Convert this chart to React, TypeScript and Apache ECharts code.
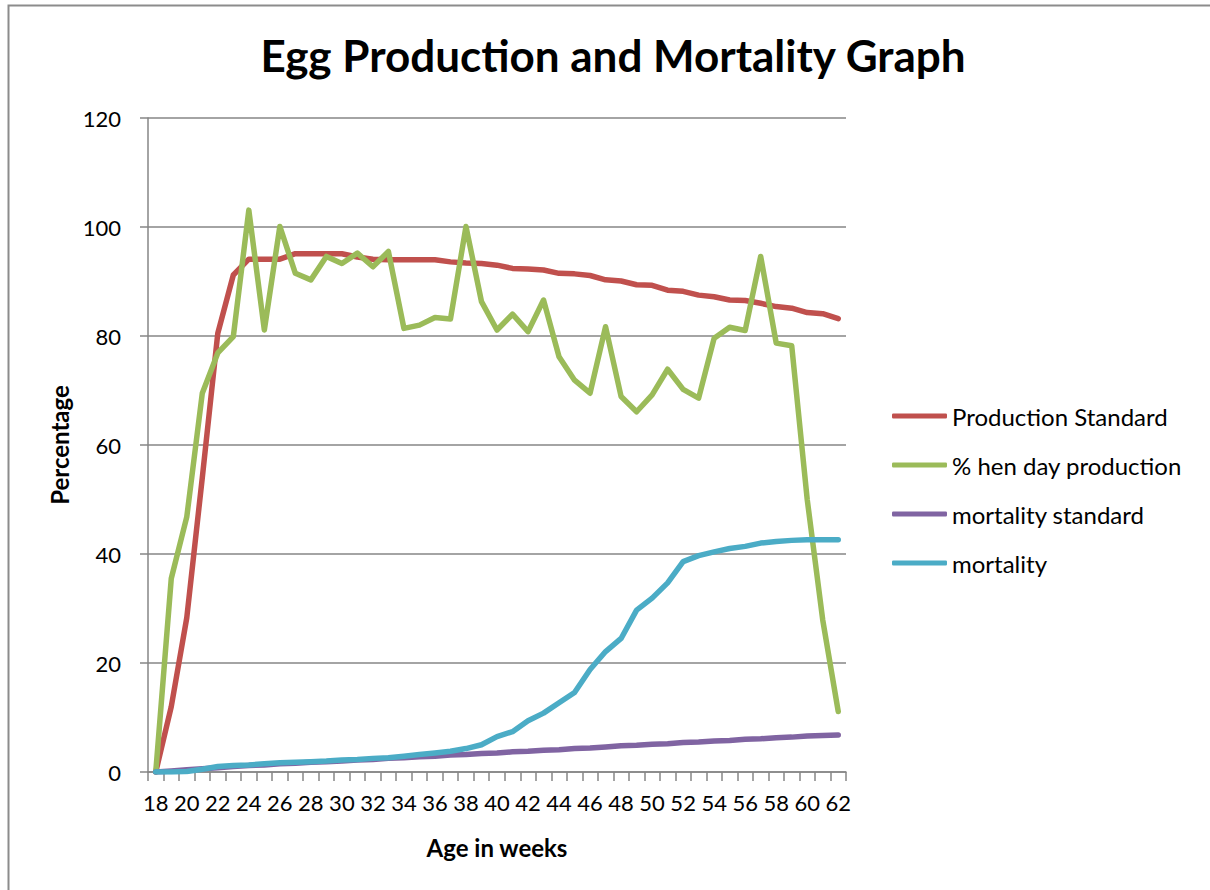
import React, { useEffect, useRef } from "react";
import * as echarts from "echarts";

const weeks: string[] = [
  "18","19","20","21","22","23","24","25","26","27","28","29","30","31","32","33","34","35","36","37","38","39","40",
  "41","42","43","44","45","46","47","48","49","50","51","52","53","54","55","56","57","58","59","60","61","62",
];

const productionStandard: number[] = [
  0, 12.0, 28.3, 54.0, 80.5, 91.2, 94.1, 94.1, 94.1, 95.1, 95.1, 95.1, 95.1, 94.5, 94.1, 94.0, 94.0, 94.0, 94.0, 93.6, 93.4, 93.3, 93.0,
  92.4, 92.3, 92.1, 91.5, 91.4, 91.1, 90.3, 90.1, 89.4, 89.3, 88.4, 88.2, 87.5, 87.2, 86.6, 86.5, 86.0, 85.4, 85.1, 84.3, 84.1, 83.2,
];

const henDayProduction: number[] = [
  0, 35.5, 46.8, 69.5, 76.9, 79.9, 103.1, 81.1, 100.1, 91.5, 90.3, 94.6, 93.3, 95.2, 92.7, 95.5, 81.4, 82.0, 83.4, 83.1, 100.1, 86.3, 81.1,
  84.0, 80.8, 86.6, 76.2, 71.9, 69.5, 81.7, 68.9, 66.1, 69.2, 73.9, 70.2, 68.6, 79.6, 81.6, 81.0, 94.6, 78.7, 78.2, 50.0, 27.9, 11.1,
];

const mortalityStandard: number[] = [
  0.0, 0.2, 0.4, 0.6, 0.8, 1.0, 1.2, 1.3, 1.5, 1.6, 1.8, 1.9, 2.0, 2.2, 2.3, 2.5, 2.6, 2.8, 2.9, 3.1, 3.2, 3.4, 3.5,
  3.7, 3.8, 4.0, 4.1, 4.3, 4.4, 4.6, 4.8, 4.9, 5.1, 5.2, 5.4, 5.5, 5.7, 5.8, 6.0, 6.1, 6.3, 6.4, 6.6, 6.7, 6.8,
];

const mortality: number[] = [
  0, 0, 0.1, 0.5, 1.0, 1.2, 1.3, 1.5, 1.7, 1.8, 1.9, 2.0, 2.2, 2.3, 2.5, 2.6, 2.9, 3.2, 3.5, 3.8, 4.3, 5.0, 6.5,
  7.4, 9.4, 10.8, 12.7, 14.6, 18.8, 22.1, 24.5, 29.7, 31.9, 34.7, 38.6, 39.7, 40.4, 41.0, 41.4, 42.0, 42.3, 42.5, 42.6, 42.6, 42.6,
];

const seriesNames: string[] = [
  "Production Standard",
  "% hen day production",
  "mortality standard",
  "mortality",
];
const seriesColors: string[] = ["#C0504D", "#9BBB59", "#8064A2", "#4BACC6"];

const FONT = "Lato, 'Open Sans', sans-serif";

export default function App() {
  const ref = useRef<HTMLDivElement>(null);
  useEffect(() => {
    if (!ref.current) return;
    const chart = echarts.init(ref.current, undefined, { renderer: "svg" });
    const values = [productionStandard, henDayProduction, mortalityStandard, mortality];
    chart.setOption({
      animation: false,
      backgroundColor: "#ffffff",
      textStyle: { fontFamily: FONT },
      title: {
        text: "Egg Production and Mortality Graph",
        left: 608,
        textAlign: "center",
        top: 28,
        textStyle: { fontFamily: FONT, fontSize: 44, fontWeight: "bold", color: "#000" },
      },
      graphic: [
        {
          type: "rect",
          shape: { x: 8.5, y: 5.5, width: 1400, height: 1200 },
          style: { fill: "none", stroke: "#8c8c8c", lineWidth: 2 },
          silent: true,
        },
      ],
      legend: {
        orient: "vertical",
        left: 887,
        top: 399,
        icon: "roundRect",
        itemWidth: 55,
        itemHeight: 5,
        itemGap: 25,
        textStyle: { fontFamily: FONT, fontSize: 24, color: "#000" },
        data: seriesNames,
      },
      grid: { left: 148, right: 364, top: 118, bottom: 118, containLabel: false },
      xAxis: {
        type: "category",
        data: weeks,
        boundaryGap: true,
        name: "Age in weeks",
        nameLocation: "middle",
        nameGap: 63,
        nameTextStyle: { fontFamily: FONT, fontSize: 24, fontWeight: "bold", color: "#000" },
        axisLine: { lineStyle: { color: "#868686", width: 1.5 } },
        axisTick: { show: true, interval: 0, length: 9, lineStyle: { color: "#868686", width: 1.5 } },
        axisLabel: { interval: 1, fontFamily: FONT, fontSize: 22, color: "#000", margin: 19 },
        splitLine: { show: false },
      },
      yAxis: {
        type: "value",
        min: 0,
        max: 120,
        interval: 20,
        name: "Percentage",
        nameLocation: "middle",
        nameGap: 74,
        nameRotate: 90,
        nameTextStyle: { fontFamily: FONT, fontSize: 24, fontWeight: "bold", color: "#000" },
        axisLine: { show: true, lineStyle: { color: "#868686", width: 1.5 } },
        axisTick: { show: true, length: 8, lineStyle: { color: "#868686", width: 1.5 } },
        axisLabel: { fontFamily: FONT, fontSize: 22, color: "#000", margin: 27 },
        splitLine: { show: true, lineStyle: { color: "#868686", width: 1.5 } },
      },
      series: seriesNames.map((name, i) => ({
        name,
        type: "line",
        data: values[i],
        symbol: "none",
        showSymbol: false,
        itemStyle: { color: seriesColors[i] },
        lineStyle: { color: seriesColors[i], width: 5.5, cap: "round", join: "round" },
        z: 2 + i,
      })),
    });
    return () => chart.dispose();
  }, []);
  return (
    <div
      ref={ref}
      style={{ position: "fixed", left: 0, top: 0, width: 1210, height: 890, background: "#fff" }}
    />
  );
}
